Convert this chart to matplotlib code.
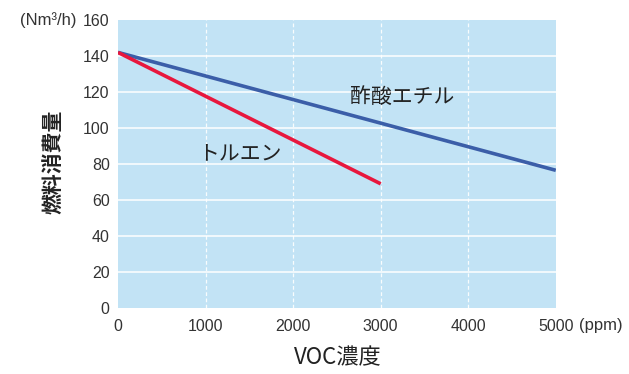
import matplotlib.pyplot as plt

plt.rcParams['font.family'] = ['Liberation Sans', 'Noto Sans CJK JP']

# values
voc = [0, 5000]
ethyl_acetate = [142, 76.5]
voc_tol = [0, 3000]
toluene = [142, 69]
xticks = [0, 1000, 2000, 3000, 4000, 5000]
yticks = [0, 20, 40, 60, 80, 100, 120, 140, 160]

jp = ['Noto Sans CJK JP', 'DejaVu Sans']
txt = '#222222'

fig = plt.figure(figsize=(6.29, 3.74), dpi=100)
ax = fig.add_axes([0.1876, 0.1765, 0.696, 0.77])
ax.set_facecolor('#c2e3f5')
for s in ax.spines.values():
    s.set_visible(False)

ax.set_xlim(0, 5000)
ax.set_ylim(0, 160)
ax.set_xticks(xticks)
ax.set_yticks(yticks)
ax.tick_params(length=0, labelsize=11.5, colors='#333333')
ax.tick_params(axis='x', pad=8)
ax.tick_params(axis='y', pad=6)

for y in yticks[1:-1]:
    ax.axhline(y, color='white', lw=1.3, alpha=0.85, zorder=1)
for x in xticks[1:-1]:
    ax.axvline(x, color='white', lw=0.9, ls=(0, (3, 2)), alpha=0.9, zorder=1)

ax.plot(voc, ethyl_acetate, color='#3b5ea8', lw=2.6, zorder=3, solid_capstyle='butt')
ax.plot(voc_tol, toluene, color='#e8173d', lw=2.6, zorder=3, solid_capstyle='butt')

ax.text(1390, 86, 'トルエン', fontsize=15, ha='center', va='center', color=txt, family=jp)
ax.text(3250, 117.5, '酢酸エチル', fontsize=15, ha='center', va='center', color=txt, family=jp)

# units next to the end ticks
fig.text(0.121, 0.946, '(Nm³/h)', fontsize=12, color='#333333', va='center', ha='right')
fig.text(0.921, 0.131, '(ppm)', fontsize=12, color='#333333', va='center', ha='left')

fig.text(0.084, 0.567, '燃料消費量', fontsize=15, rotation=90, fontweight='bold',
         ha='center', va='center', color=txt, family=jp)
fig.text(0.537, 0.043, 'VOC濃度', fontsize=16, ha='center', va='center', color=txt, family=jp)

fig.savefig('out.png', dpi=100)
